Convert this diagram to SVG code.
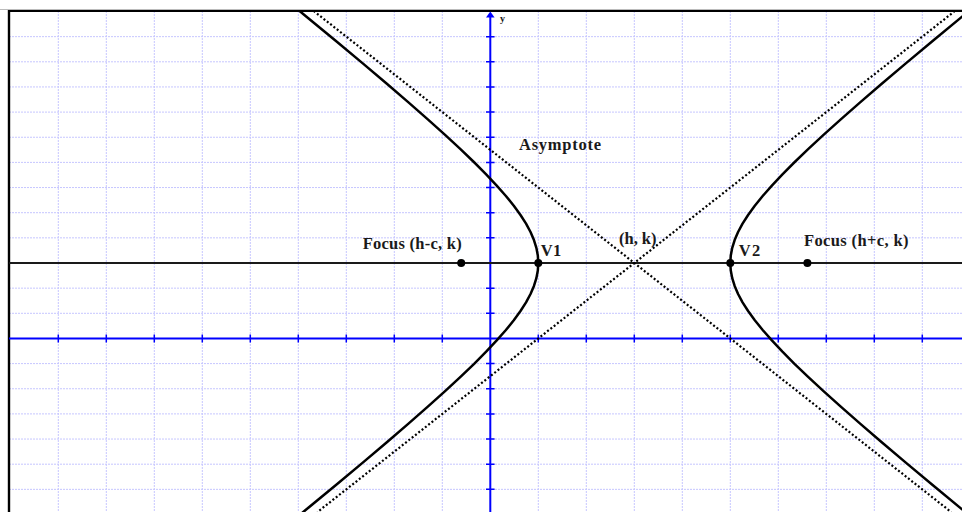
<svg xmlns="http://www.w3.org/2000/svg" width="962" height="512" viewBox="0 0 962 512">
<style>
.grid{stroke:#c6c6ff;stroke-width:1;stroke-dasharray:2 1;fill:none}
.axis{stroke:#0000ff;stroke-width:2;fill:none}
.tick{stroke:#0000ff;stroke-width:1.5}
.curve{stroke:#000;stroke-width:2.5;fill:none;stroke-linejoin:round}
.asym{stroke:#000;stroke-width:2.2;stroke-dasharray:2 2.2;fill:none}
.lbl{font-family:"Liberation Serif","Times New Roman",serif;font-weight:bold;font-size:16.5px;fill:#1a1a1a}
.pt{fill:#000}
</style>
<defs>
<clipPath id="plot"><rect x="9" y="11" width="953" height="501"/></clipPath>
</defs>
<rect x="0" y="0" width="962" height="512" fill="#fff"/>
<g id="grid">
<path class="grid" d="M58.3 11V512M106.3 11V512M154.3 11V512M202.3 11V512M250.3 11V512M298.3 11V512M346.3 11V512M394.3 11V512M442.3 11V512M538.3 11V512M586.3 11V512M634.3 11V512M682.3 11V512M730.3 11V512M778.3 11V512M826.3 11V512M874.3 11V512M922.3 11V512"/>
<path class="grid" d="M9 36.65H962M9 61.8H962M9 86.95H962M9 112.1H962M9 137.25H962M9 162.4H962M9 187.55H962M9 212.7H962M9 237.85H962M9 288.15H962M9 313.3H962M9 363.6H962M9 388.75H962M9 413.9H962M9 439.05H962M9 464.2H962M9 489.35H962"/>
</g>
<g id="frame">
<line x1="0" y1="9.5" x2="962" y2="9.5" stroke="#aaa" stroke-width="0.8"/>
<line x1="8" y1="11" x2="962" y2="11" stroke="#000" stroke-width="2.2"/>
<line x1="9" y1="10" x2="9" y2="512" stroke="#000" stroke-width="2.4"/>
</g>
<g id="axes">
<line class="axis" x1="9" y1="338.5" x2="962" y2="338.5"/>
<path class="tick" d="M58.3 334.5V342.5M106.3 334.5V342.5M154.3 334.5V342.5M202.3 334.5V342.5M250.3 334.5V342.5M298.3 334.5V342.5M346.3 334.5V342.5M394.3 334.5V342.5M442.3 334.5V342.5M538.3 334.5V342.5M586.3 334.5V342.5M634.3 334.5V342.5M682.3 334.5V342.5M730.3 334.5V342.5M778.3 334.5V342.5M826.3 334.5V342.5M874.3 334.5V342.5M922.3 334.5V342.5"/>
<line class="axis" x1="490.3" y1="16" x2="490.3" y2="512"/>
<polygon points="490.3,11.5 486,17.5 494.6,17.5" fill="#0000ff"/>
<path class="tick" d="M486 36.65H494.6M486 61.8H494.6M486 86.95H494.6M486 112.1H494.6M486 137.25H494.6M486 162.4H494.6M486 187.55H494.6M486 212.7H494.6M486 237.85H494.6M486 288.15H494.6M486 313.3H494.6M486 363.6H494.6M486 388.75H494.6M486 413.9H494.6M486 439.05H494.6M486 464.2H494.6M486 489.35H494.6"/>
<text x="500" y="22" font-family="Liberation Serif, serif" font-weight="bold" font-size="10" fill="#1a1a1a">y</text>
</g>
<g id="transverse-axis">
<line x1="9" y1="263" x2="962" y2="263" stroke="#1a1a1a" stroke-width="1.8"/>
</g>
<g id="asymptotes" clip-path="url(#plot)">
<line class="asym" x1="313.7" y1="11" x2="951.1" y2="512"/>
<line class="asym" x1="954.9" y1="11" x2="317.5" y2="512"/>
</g>
<g id="hyperbola" clip-path="url(#plot)">
<polyline class="curve" points="273.13,-10.65 306.2,16.42 335.98,41.01 362.78,63.39 386.86,83.76 408.47,102.35 427.81,119.32 445.09,134.86 460.48,149.11 474.12,162.23 486.16,174.33 496.72,185.55 505.91,195.99 513.8,205.77 520.5,214.97 526.05,223.68 530.52,232.01 533.95,240.02 536.37,247.81 537.82,255.44 538.3,263 537.82,270.56 536.37,278.19 533.95,285.98 530.52,293.99 526.05,302.32 520.5,311.04 513.8,320.24 505.91,330.01 496.72,340.45 486.16,351.67 474.12,363.78 460.48,376.89 445.09,391.14 427.81,406.68 408.47,423.65 386.86,442.24 362.78,462.61 335.98,484.99 306.2,509.58 273.13,536.65"/>
<polyline class="curve" points="995.47,-10.65 962.4,16.42 932.62,41.01 905.82,63.39 881.74,83.76 860.13,102.35 840.79,119.32 823.51,134.86 808.12,149.11 794.48,162.23 782.44,174.33 771.88,185.55 762.69,195.99 754.8,205.77 748.11,214.97 742.55,223.68 738.08,232.01 734.65,240.02 732.23,247.81 730.78,255.44 730.3,263 730.78,270.56 732.23,278.19 734.65,285.98 738.08,293.99 742.55,302.32 748.11,311.04 754.8,320.24 762.69,330.01 771.88,340.45 782.44,351.67 794.48,363.78 808.12,376.89 823.51,391.14 840.79,406.68 860.13,423.65 881.74,442.24 905.82,462.61 932.62,484.99 962.4,509.58 995.47,536.65"/>
</g>
<g id="focus-left">
<circle class="pt" cx="461.2" cy="263" r="4"/>
<text class="lbl" x="362.7" y="248.5" textLength="99">Focus (h-c, k)</text>
</g>
<g id="vertex-1">
<circle class="pt" cx="538.3" cy="263" r="4"/>
<text class="lbl" x="540.7" y="256" textLength="20.5">V1</text>
</g>
<g id="center">
<text class="lbl" x="619" y="243.5" textLength="37.5">(h, k)</text>
</g>
<g id="vertex-2">
<circle class="pt" cx="730.3" cy="263" r="4"/>
<text class="lbl" x="738.7" y="256" textLength="21.5">V2</text>
</g>
<g id="focus-right">
<circle class="pt" cx="807.4" cy="263" r="4"/>
<text class="lbl" x="804" y="245.5" textLength="104.5">Focus (h+c, k)</text>
</g>
<g id="asymptote-label">
<text class="lbl" x="519" y="150" textLength="82">Asymptote</text>
</g>
</svg>
